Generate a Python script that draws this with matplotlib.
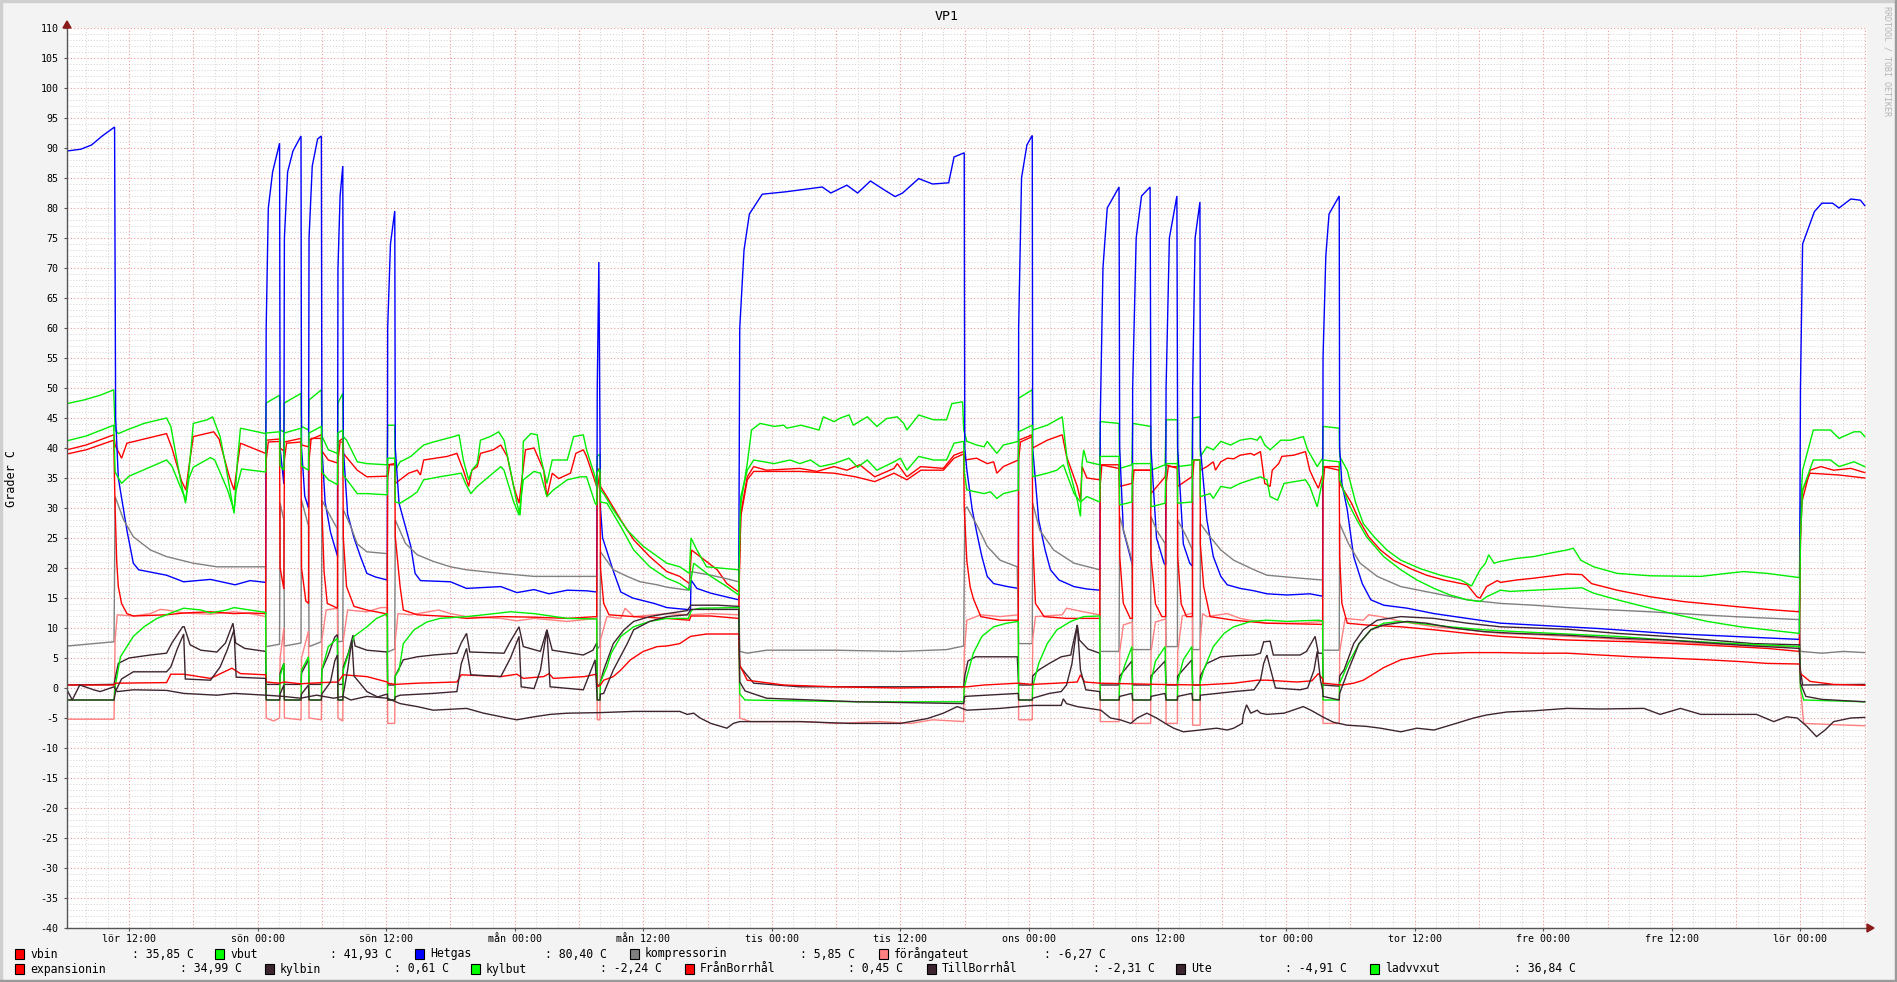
import matplotlib
matplotlib.use("Agg")
import matplotlib.pyplot as plt
from matplotlib.patches import Rectangle, Polygon
import numpy as np

W, H = 1897, 982

# time axis: hours counted from the first "lör 00:00"
t_start, t_end = 6.21, 174.21
tick_hours = [12, 24, 36, 48, 60, 72, 84, 96, 108, 120, 132, 144, 156, 168]
tick_labels = ["lör 12:00", "sön 00:00", "sön 12:00", "mån 00:00", "mån 12:00",
               "tis 00:00", "tis 12:00", "ons 00:00", "ons 12:00", "tor 00:00",
               "tor 12:00", "fre 00:00", "fre 12:00", "lör 00:00"]

# series: (hour, degC)
vbin = [(6.21, 39.7), (8.0, 40.5), (10.57, 42.2), (10.7, 40.5), (11.3, 38.3), (11.8, 40.8), (15.5, 42.4), (16.0, 40),
        (16.9, 34.5), (17.3, 33.0), (17.6, 37), (18.0, 41.9), (19.9, 42.7), (20.4, 41.5), (21.4, 35), (21.8, 33.0),
        (22.1, 37), (22.4, 40.8), (24.75, 39.1), (24.8, 41.3), (26.05, 41.5), (26.1, 40.0), (26.45, 39.5), (26.5, 41.0),
        (28.05, 41.6), (28.1, 40.5), (28.75, 40.2), (28.8, 41.3), (29.95, 42.2), (30.0, 39.5), (30.6, 38), (31.45, 37.5),
        (31.5, 41), (31.95, 41.6), (32.0, 39.1), (33.3, 36.3), (34.2, 35.2), (36.1, 35.3), (36.14, 37.2), (36.8, 37.4),
        (36.85, 34.1), (38.1, 35.8), (38.9, 36.3), (39.2, 35.5), (39.5, 38.0), (41.7, 38.6), (42.6, 39.1), (43.2, 36.3),
        (43.7, 33.6), (44.0, 36.3), (44.5, 36.9), (44.8, 39.1), (46.0, 39.7), (46.7, 40.5), (47.3, 38.6), (47.9, 33.6),
        (48.4, 30.8), (48.7, 35.2), (49.0, 39.7), (49.8, 40.0), (50.7, 36.3), (51.0, 31.9), (51.5, 35.8), (52.1, 34.9),
        (53.2, 35.8), (53.7, 39.1), (54.4, 39.7), (54.7, 38.6), (55.65, 33.6), (55.7, 36.3), (55.95, 36.6), (56.0, 33.6),
        (56.6, 31.9), (57.9, 28), (59.1, 24.7), (60.6, 21.9), (62.2, 19.4), (63.4, 18.6), (64.3, 17.4), (64.5, 23),
        (65.3, 21.9), (66.9, 19.7), (67.8, 17.4), (68.9, 16.0), (69.0, 22), (69.1, 29.1), (69.7, 35.2), (70.3, 36.9),
        (71.5, 36.3), (74.6, 36.6), (76.2, 36.1), (77.8, 36.9), (79.0, 36.3), (80.2, 37.2), (81.6, 35.2), (83.4, 36.6),
        (83.7, 37.4), (84.6, 35.2), (85.9, 36.9), (88.0, 36.6), (89.0, 38.8), (89.9, 39.4), (90.0, 38.0), (91.1, 38.3),
        (92.1, 37.4), (92.7, 37.7), (93.0, 35.8), (93.6, 36.9), (95.0, 38.0), (95.03, 41.3), (96.3, 42.2), (96.34, 40),
        (97.7, 41.3), (99.1, 42.2), (99.5, 38.6), (100.5, 33.6), (100.8, 31.3), (100.95, 36.9), (101.4, 35), (102.6, 34.7),
        (102.65, 37.2), (104.4, 36.6), (104.46, 33.6), (105.6, 34.1), (105.67, 36.3), (107.35, 36.3), (107.38, 32.4),
        (108.7, 35.2), (108.79, 37.2), (109.85, 36.6), (109.87, 33.6), (111.2, 35.2), (111.27, 38), (111.97, 38),
        (111.99, 36.3), (112.6, 36.9), (113.2, 37.7), (113.4, 36.3), (113.9, 37.7), (114.5, 38.3), (115.1, 38.2),
        (115.7, 38.8), (116.7, 39.1), (117.0, 38.8), (117.6, 39.4), (118.0, 34.1), (118.5, 33.6), (118.7, 36.3),
        (119.3, 37.4), (119.6, 38.6), (120.7, 38.8), (121.8, 39.4), (122.2, 36.3), (122.6, 34.7), (123.0, 33.3),
        (123.4, 35.5), (123.44, 36.9), (124.95, 36.3), (124.99, 34.1), (126.1, 30.8), (126.8, 28), (127.7, 25.2),
        (128.8, 23), (130.0, 21.3), (131.6, 19.9), (133.1, 18.8), (134.7, 18), (136.9, 17.2), (137.8, 15.2), (138.1, 15.0),
        (138.7, 16.9), (139.7, 17.9), (140.0, 17.6), (141.5, 18), (143.1, 18.3), (146.2, 19.0), (147.6, 18.9),
        (148.5, 17.4), (150.9, 16.3), (154.0, 15.2), (157.1, 14.4), (161.8, 13.6), (164.9, 13.1), (167.9, 12.7),
        (168.0, 25), (168.1, 30.8), (168.9, 36.3), (169.9, 36.9), (171.1, 36.3), (172.7, 36.6), (174.0, 35.9)]

vbut = [(6.21, 47.4), (7.77, 48.0), (9.32, 48.8), (10.57, 49.7), (10.7, 43.0), (11.0, 42.4), (11.8, 43.0), (13.4, 44.1),
        (15.5, 45.0), (15.9, 43.6), (16.8, 34.7), (17.27, 30.8), (17.6, 36.3), (18.0, 44.1), (19.3, 44.7), (19.8, 45.2),
        (20.5, 41.9), (21.1, 36.3), (21.8, 29.1), (22.1, 37.4), (22.4, 43.3), (24.75, 42.4), (24.8, 47.5), (26.05, 48.8),
        (26.1, 43.0), (26.45, 42.7), (26.5, 47.5), (28.05, 49.1), (28.1, 43.6), (28.75, 43.0), (28.8, 48.0), (29.95, 49.7),
        (30.0, 42), (30.6, 39.7), (31.45, 39.1), (31.5, 47.5), (31.95, 49.1), (32.0, 41.9), (32.3, 41.3), (33.3, 37.7),
        (34.2, 37.4), (36.1, 37.2), (36.14, 43.8), (36.8, 43.8), (36.85, 36.3), (37.3, 37.7), (38.3, 38.6), (39.5, 40.5),
        (40.4, 41.0), (42.3, 41.9), (42.8, 42.2), (43.2, 38), (43.7, 34.7), (44.0, 36.3), (44.5, 37.4), (44.8, 41.3),
        (45.7, 41.9), (46.5, 42.7), (47.0, 41.3), (47.6, 36.3), (48.2, 30.8), (48.5, 28.8), (48.7, 34.7), (48.8, 41.1),
        (49.5, 42.4), (50.1, 42.2), (50.4, 38.6), (51.0, 34.1), (51.5, 38.0), (52.9, 38.0), (53.5, 41.9), (54.4, 42.2),
        (54.7, 39.7), (55.5, 35.2), (55.65, 33.6), (55.7, 38.6), (55.95, 39), (56.0, 33.0), (56.3, 32.4), (57.2, 29.7),
        (58.5, 26.3), (60.0, 23.6), (62.2, 20.8), (63.4, 20.2), (64.3, 19.1), (64.45, 25.0), (65.0, 23.0), (65.9, 20.2),
        (68.9, 19.7), (69.0, 25), (69.1, 30.8), (69.7, 37.4), (70.1, 43.0), (70.9, 44.1), (72.2, 43.6), (73.1, 43.8),
        (73.4, 43.3), (74.7, 43.8), (76.4, 43.0), (76.8, 45.2), (77.8, 44.4), (78.4, 45.0), (79.2, 45.5), (79.6, 43.8),
        (80.9, 45.2), (81.8, 43.6), (82.7, 44.9), (83.7, 45.2), (84.3, 44.1), (84.6, 43.0), (85.7, 45.5), (87.1, 44.7),
        (88.3, 44.7), (88.8, 47.4), (89.8, 47.7), (89.9, 43), (90.2, 41.1), (91.1, 40.5), (91.8, 40.2), (92.1, 41.1),
        (93.0, 39.1), (93.6, 40.5), (95.0, 41.1), (95.03, 48.3), (96.3, 49.7), (96.34, 43.0), (97.7, 43.8), (98.6, 44.7),
        (99.1, 45.2), (99.6, 37.4), (100.5, 31.3), (100.8, 28.6), (100.95, 37.4), (101.1, 39.7), (101.4, 37.7),
        (102.6, 37.2), (102.65, 44.4), (104.4, 44.1), (104.46, 36.6), (105.6, 37.2), (105.67, 44.1), (107.35, 43.6),
        (107.38, 36.3), (108.7, 37.2), (108.79, 44.7), (109.85, 44.7), (109.87, 36.9), (111.2, 37.2), (111.27, 45.0),
        (111.97, 45.2), (111.99, 38.6), (112.6, 40.2), (113.2, 39.7), (113.9, 41.1), (114.8, 40.5), (115.7, 41.3),
        (116.7, 41.6), (117.3, 41.3), (117.6, 42.0), (118.0, 40.5), (118.5, 39.7), (119.5, 41.3), (120.4, 41.3),
        (121.6, 41.9), (122.0, 39.7), (122.9, 36.9), (123.4, 38.3), (123.44, 43.6), (124.95, 43.3), (124.99, 38.6),
        (125.7, 36.3), (126.5, 30.8), (127.2, 27.4), (128.2, 25.2), (129.4, 23.0), (130.7, 21.3), (132.5, 19.9),
        (134.4, 18.8), (136.3, 18.0), (137.3, 17.0), (138.1, 19.7), (138.6, 20.8), (138.9, 22.2), (139.4, 20.8),
        (140.0, 21.1), (141.5, 21.6), (143.1, 21.9), (144.7, 22.5), (146.2, 23.0), (146.8, 23.3), (147.5, 21.3),
        (148.7, 20.2), (150.9, 19.1), (154.0, 18.7), (158.7, 18.6), (161.1, 19.1), (162.7, 19.4), (164.9, 19.1),
        (167.9, 18.4), (168.0, 30), (168.2, 36.3), (169.2, 43.0), (170.8, 43.0), (171.6, 41.6), (173.0, 42.7),
        (173.6, 42.7), (174.0, 41.9)]

hetgas = [(6.21, 89.5), (7.5, 89.8), (8.5, 90.5), (9.5, 92.0), (10.5, 93.3), (10.65, 93.5), (10.72, 60), (10.75, 45),
          (11.0, 35), (11.8, 26.3), (12.4, 20.8), (12.9, 19.7), (15.5, 18.8), (17.1, 17.7), (19.6, 18.1), (21.9, 17.2),
          (23.3, 17.9), (24.75, 17.6), (24.8, 60), (25.0, 80), (25.4, 86), (26.05, 90.8), (26.1, 40), (26.45, 34),
          (26.5, 75), (26.8, 86), (27.3, 89.5), (28.05, 92), (28.1, 40), (28.4, 32), (28.75, 30), (28.8, 75), (29.1, 87),
          (29.6, 91.5), (29.95, 92), (30.0, 40), (30.3, 31), (30.8, 26), (31.45, 22), (31.5, 70), (31.7, 82),
          (31.95, 87), (32.0, 40), (32.4, 29), (33.0, 25), (33.6, 21.9), (34.2, 19.1), (35.0, 18.5), (36.1, 18),
          (36.14, 60), (36.4, 74), (36.8, 79.5), (36.85, 40), (37.2, 30.8), (38.3, 23.6), (38.7, 19.1), (39.2, 17.9),
          (42.0, 17.7), (43.5, 16.6), (46.7, 16.9), (48.2, 15.9), (49.8, 16.4), (51.2, 15.7), (52.9, 16.3), (54.7, 16.2),
          (55.65, 16), (55.7, 50), (55.85, 71), (56.0, 30), (56.2, 25), (57.2, 19.5), (57.9, 16), (59.0, 15.0),
          (61.0, 14.1), (62.2, 13.4), (64.0, 13.1), (64.4, 13.0), (64.45, 18), (65.0, 16.6), (66.3, 15.8), (68.9, 14.7),
          (69.0, 60), (69.4, 73), (69.9, 79), (71.1, 82.3), (73.3, 82.7), (76.7, 83.5), (77.5, 82.5), (79.0, 83.8),
          (80.0, 82.5), (81.2, 84.5), (82.5, 83.0), (83.5, 81.9), (84.2, 82.5), (85.7, 84.9), (87.0, 84.0), (88.5, 84.2),
          (89.0, 88.5), (89.95, 89.2), (90.0, 40), (90.2, 36.3), (90.7, 29.7), (91.2, 25.2), (91.6, 21.9), (92.1, 18.6),
          (92.7, 17.4), (94.0, 16.9), (95.0, 16.6), (95.03, 60), (95.3, 85), (95.8, 90.5), (96.3, 92.1), (96.34, 40),
          (96.9, 28), (97.5, 23), (98.0, 19.7), (98.8, 18), (100.2, 16.9), (101.4, 16.5), (102.6, 16.3), (102.65, 45),
          (102.9, 70), (103.3, 80), (104.4, 83.5), (104.46, 40), (104.8, 26.3), (105.45, 21.9), (105.65, 20.5),
          (105.67, 50), (106.0, 75), (106.5, 82), (107.3, 83.5), (107.38, 40), (107.9, 25), (108.6, 20.8), (108.75, 20.5),
          (108.79, 50), (109.1, 75), (109.8, 82), (109.87, 40), (110.4, 24), (111.0, 20.8), (111.25, 20.3), (111.27, 50),
          (111.5, 75), (111.95, 81), (111.99, 40), (112.6, 28), (113.2, 21.9), (113.9, 18.6), (114.5, 17.2), (115.7, 16.6),
          (117.0, 16.2), (118.2, 15.7), (120.1, 15.5), (122.2, 15.7), (123.4, 15.3), (123.44, 55), (123.7, 72),
          (124.0, 79), (124.95, 82), (124.99, 40), (125.2, 34.1), (125.7, 29.7), (126.3, 21.9), (127.1, 17.4),
          (127.9, 14.7), (129.1, 13.8), (131.3, 13.3), (133.8, 12.4), (136.9, 11.6), (140.0, 10.8), (146.2, 10.2),
          (149.3, 9.9), (155.5, 9.1), (161.8, 8.6), (167.9, 8.1), (168.0, 50), (168.2, 74), (169.3, 79.4), (170.0, 80.8),
          (171.0, 80.8), (171.6, 80.0), (172.7, 81.5), (173.6, 81.3), (174.0, 80.4)]

kompressorin = [(6.21, 7.0), (10.6, 7.7), (10.7, 31.9), (11.5, 28), (12.4, 25.2), (14.0, 23), (15.5, 21.9), (18.0, 20.8),
                (20.2, 20.2), (24.75, 20.2), (24.8, 6.9), (26.05, 7.3), (26.1, 30.8), (26.45, 28), (26.5, 7.0),
                (28.05, 7.5), (28.1, 31.3), (28.75, 27), (28.8, 6.9), (29.95, 7.7), (30.0, 31.3), (30.8, 28.6),
                (31.45, 26.5), (31.5, 7.7), (31.95, 7.8), (32.0, 29.7), (32.7, 26.9), (33.3, 24), (34.2, 22.7),
                (36.1, 22.4), (36.14, 6.0), (36.8, 6.5), (36.85, 28), (37.8, 24.1), (38.9, 22.2), (40.4, 21.1),
                (42.0, 20.2), (43.5, 19.7), (46.7, 19.1), (49.8, 18.6), (55.65, 18.6), (55.7, 6.5), (55.95, 7),
                (56.0, 22.7), (57.2, 19.7), (58.5, 18.6), (59.7, 17.7), (61.3, 17.2), (62.2, 16.8), (64.2, 16.3),
                (64.45, 19.4), (66.3, 18.8), (67.8, 18.2), (68.9, 17.7), (69.0, 6.1), (69.7, 5.8), (71.5, 6.3),
                (77.8, 6.3), (84.0, 6.1), (88.3, 6.4), (89.9, 7.0), (90.0, 29.7), (90.2, 30.2), (91.2, 26.9),
                (92.1, 23.6), (93.3, 21.3), (94.9, 20.2), (95.03, 7.4), (96.3, 7.4), (96.34, 30.8), (97.0, 26.3),
                (98.3, 23), (100.2, 20.8), (102.6, 19.7), (102.65, 6.1), (104.4, 6.1), (104.46, 28.6), (105.0, 25.2),
                (105.6, 21.3), (105.67, 6.4), (107.35, 6.4), (107.38, 28.6), (107.9, 26.3), (108.7, 24.1),
                (108.79, 6.9), (109.85, 6.9), (109.87, 28), (110.7, 25.2), (111.25, 23), (111.27, 6.4), (111.97, 6.4),
                (111.99, 27.4), (112.9, 25.2), (113.9, 23), (115.1, 21.3), (117.0, 19.7), (118.2, 18.8), (121.3, 18.3),
                (123.4, 18.0), (123.44, 6.3), (124.95, 6.3), (124.99, 27.4), (125.8, 24.1), (126.9, 20.8),
                (128.5, 18.6), (130.7, 16.9), (133.8, 15.8), (136.9, 14.7), (140.0, 14.1), (143.1, 13.8), (146.2, 13.4),
                (149.3, 13.1), (154.0, 12.7), (158.7, 12.2), (161.8, 11.9), (167.9, 11.4), (168.0, 6.1), (170, 5.8),
                (172, 6.1), (174.0, 5.9)]

forangateut = [(6.21, -5.2), (10.6, -5.2), (10.7, 8), (10.9, 12.2), (12.4, 12.0), (14.0, 12.4), (14.9, 13.1),
               (15.5, 13.0), (17.1, 12.5), (19.6, 12.3), (21.8, 12.7), (23.3, 12.4), (24.75, 11.9), (24.8, -5.0),
               (25.5, -5.5), (26.05, -5.0), (26.1, 5), (26.45, 10), (26.5, -5.0), (28.05, -5.3), (28.1, 5),
               (28.75, 9.5), (28.8, -5.0), (29.95, -5.3), (30.0, 8), (30.4, 13.0), (31.45, 13.3), (31.5, -5.0),
               (31.95, -5.5), (32.0, 8), (32.4, 13.0), (34.2, 12.7), (35.5, 13.4), (36.1, 13.4), (36.14, -5.9),
               (36.8, -5.9), (36.85, 8), (37.1, 12.4), (38.3, 12.2), (40.9, 13.0), (42.0, 12.4), (43.5, 11.9),
               (46.7, 11.6), (48.2, 11.2), (49.8, 11.6), (52.9, 11.1), (55.65, 11.6), (55.7, -5.3), (55.95, -5.3),
               (56.0, 8), (56.6, 11.9), (57.9, 11.6), (58.3, 13.3), (59.1, 11.9), (62.2, 12.4), (64.3, 12.2),
               (66.3, 12.4), (68.9, 12.2), (69.0, -5.0), (70.0, -5.6), (75.0, -5.6), (78.0, -5.9), (82.0, -5.6),
               (85.0, -5.9), (87.0, -5.3), (89.9, -5.6), (89.95, 6), (90.2, 11.3), (91.5, 12.2), (93.3, 11.9),
               (95.0, 12.2), (95.03, -5.3), (96.3, -5.3), (96.34, 8), (96.6, 11.9), (99.1, 12.2), (99.5, 13.3),
               (101.1, 12.7), (102.6, 12.2), (102.65, -5.6), (104.4, -5.6), (104.46, 6), (104.8, 10.5), (105.65, 11.0),
               (105.67, -5.9), (107.35, -5.9), (107.38, 6), (107.8, 11.0), (108.75, 11.5), (108.79, -5.9),
               (109.85, -5.9), (109.87, 6), (110.3, 12.0), (111.25, 12.5), (111.27, -6.2), (111.97, -6.2), (111.99, 8),
               (112.2, 12.4), (112.6, 11.9), (114.5, 12.4), (115.7, 11.6), (118.2, 10.8), (121.3, 10.8), (123.4, 11.1),
               (123.44, -5.9), (124.95, -5.9), (124.99, 6), (125.5, 11.6), (127.2, 11.3), (127.7, 12.2), (128.8, 11.9),
               (130.7, 11.1), (133.8, 10.2), (136.9, 9.7), (140.0, 9.1), (143.1, 8.9), (146.2, 8.6), (152.4, 8.0),
               (158.7, 7.4), (164.9, 7.0), (167.9, 6.9), (168.0, 0), (168.3, -5.9), (171.0, -6.1), (174.0, -6.3)]

expansionin = [(6.21, 39.0), (8.0, 39.7), (10.57, 41.3), (10.7, 30), (10.85, 21), (11.0, 16.9), (11.3, 14.1),
               (11.8, 12.4), (12.4, 12.0), (15.5, 12.2), (17.1, 12.5), (19.6, 12.7), (21.8, 12.4), (23.3, 12.5),
               (24.75, 12.4), (24.8, 38), (25.0, 41.0), (26.05, 41.1), (26.1, 20), (26.45, 16.5), (26.5, 38),
               (26.7, 40.8), (28.05, 41.0), (28.1, 20), (28.5, 14.5), (28.75, 14.1), (28.8, 38), (29.0, 41.6),
               (29.95, 41.6), (30.0, 30), (30.2, 19.5), (30.5, 14.1), (31.45, 13.3), (31.5, 38), (31.7, 41.0),
               (31.95, 41.0), (32.0, 25), (32.3, 16.9), (33.0, 13.6), (34.2, 13.0), (35.9, 12.4), (36.1, 11.9),
               (36.14, 35), (36.3, 37.2), (36.8, 37.2), (36.85, 25.2), (37.3, 16.9), (37.6, 13.0), (38.9, 12.2),
               (42.0, 11.9), (43.5, 11.6), (46.7, 11.9), (49.8, 11.8), (52.9, 11.6), (55.65, 11.9), (55.7, 33),
               (55.95, 36), (56.0, 20), (56.3, 14.1), (56.8, 12.2), (59.1, 11.9), (62.2, 11.6), (64.3, 11.3),
               (64.45, 12), (66.3, 12.0), (68.9, 11.6), (69.0, 22), (69.1, 28.6), (69.7, 34.7), (70.3, 36.1),
               (74.6, 36.1), (77.8, 35.8), (79.8, 35.2), (81.6, 34.4), (83.4, 35.8), (84.6, 34.7), (85.9, 36.3),
               (88.0, 36.3), (89.0, 38.3), (89.9, 39.0), (89.95, 30), (90.2, 21.1), (90.5, 16.9), (90.8, 14.9),
               (91.5, 11.9), (93.3, 11.3), (95.0, 11.3), (95.03, 38), (95.2, 41.0), (96.3, 41.9), (96.34, 25),
               (96.6, 14.1), (97.4, 11.9), (99.5, 11.6), (102.6, 11.6), (102.65, 34), (102.8, 37.2), (104.4, 37.2),
               (104.46, 22), (104.8, 14.1), (105.45, 11.6), (105.65, 11.6), (105.67, 34), (105.8, 36.3),
               (107.35, 36.3), (107.38, 22), (107.8, 14), (108.4, 11.9), (108.75, 11.9), (108.79, 34), (109.0, 36.9),
               (109.85, 36.9), (109.87, 22), (110.2, 14), (110.7, 11.9), (111.25, 11.9), (111.27, 35), (111.4, 38),
               (111.97, 38), (111.99, 24), (112.3, 16.9), (112.9, 11.9), (115.1, 11.3), (118.2, 10.8), (123.4, 10.6),
               (123.44, 34), (123.6, 36.9), (124.95, 36.9), (124.99, 22), (125.2, 14.1), (125.7, 10.8), (127.5, 10.5),
               (130.7, 10.2), (133.8, 9.7), (136.9, 9.1), (140.0, 8.6), (143.1, 8.3), (146.2, 8.0), (152.4, 7.7),
               (158.7, 7.2), (164.9, 6.6), (167.9, 6.1), (168.0, 25), (168.2, 33), (168.9, 35.8), (171.6, 35.5),
               (174.0, 35.0)]

kylbin = [(6.21, 0.5), (10.6, 0.6), (10.75, 2.0), (11.0, 4.1), (12.0, 5.0), (14.0, 5.5), (15.5, 5.8), (16.0, 7.5),
          (17.0, 10.2), (17.15, 10.2), (17.7, 7.2), (18.7, 6.3), (20.2, 6.0), (21.0, 7.5), (21.7, 10.8), (21.95, 7.5),
          (22.8, 6.6), (24.75, 6.1), (24.8, 0.6), (26.05, 0.6), (26.1, 2.5), (26.45, 4.1), (26.5, 0.6), (28.05, 0.6),
          (28.1, 2.5), (28.75, 4.7), (28.8, 0.6), (29.95, 0.6), (30.0, 3), (30.6, 5.5), (31.2, 8.5), (31.45, 8.9),
          (31.5, 0.6), (31.95, 0.6), (32.0, 3.5), (32.5, 6), (32.9, 8.8), (33.1, 7), (34.2, 6.3), (36.1, 6.0),
          (36.14, 0.5), (36.8, 0.5), (36.85, 2), (37.6, 4.7), (38.9, 5.2), (40.4, 5.5), (42.6, 5.8), (43.0, 7.5),
          (43.5, 9.1), (43.8, 6.0), (47.0, 5.8), (47.5, 7.5), (48.4, 10.2), (48.8, 6.9), (50.4, 6.1), (51.0, 9.7),
          (51.5, 6.3), (54.4, 5.5), (55.3, 6.3), (55.65, 7.5), (55.7, 0.5), (55.95, 0.5), (56.0, 1), (56.3, 3),
          (57.2, 7.4), (58.2, 9.7), (59.1, 11.1), (60.6, 11.9), (62.2, 12.4), (64.1, 12.9), (64.45, 13.8),
          (66.9, 13.8), (68.9, 13.6), (69.0, 3.6), (70.3, 0.8), (74.6, 0.2), (89.9, 0.2), (90.0, 2), (90.3, 4.5),
          (91.0, 5.2), (94.9, 5.2), (95.03, 0.5), (96.3, 0.5), (96.34, 2), (96.9, 3), (97.9, 4.1), (99.0, 5.2),
          (99.9, 5.5), (100.0, 6.5), (100.5, 10.5), (100.7, 8.0), (101.5, 6.5), (102.6, 5.8), (102.65, 0.5),
          (104.4, 0.5), (104.46, 2), (105.6, 4.5), (105.67, 0.5), (107.35, 0.5), (107.38, 2), (108.7, 4.5),
          (108.79, 0.5), (109.85, 0.5), (109.87, 2), (111.2, 4.7), (111.27, 0.5), (111.97, 0.5), (111.99, 2),
          (112.6, 4.1), (113.9, 5.2), (115.5, 5.4), (117.0, 5.5), (117.6, 5.8), (117.9, 7.7), (118.5, 7.8),
          (118.8, 5.5), (121.3, 5.5), (121.9, 6.1), (122.7, 8.6), (123.0, 5.8), (123.4, 5.8), (123.44, 0.5),
          (124.95, 0.3), (124.99, 2), (125.4, 3), (126.3, 7.4), (127.2, 9.7), (128.5, 11.3), (130.7, 11.9),
          (133.8, 11.6), (136.9, 10.8), (140.0, 10.2), (143.1, 10.0), (146.2, 9.8), (150.9, 9.1), (155.5, 8.6),
          (160.2, 7.9), (163.6, 7.4), (167.9, 7.2), (168.0, 3), (168.2, 0.5), (174.0, 0.6)]

kylbut = [(6.21, -2.0), (10.6, -2.0), (10.7, 0.2), (11.2, 5.2), (11.8, 6.9), (12.4, 8.6), (13.4, 10.2), (14.6, 11.6),
          (16.2, 12.7), (17.1, 13.3), (18.7, 13.0), (19.6, 12.5), (21.1, 13.0), (21.8, 13.4), (23.3, 13.0),
          (24.75, 12.6), (24.8, -2.0), (26.05, -2.0), (26.1, 2.0), (26.45, 4.1), (26.5, -2.0), (28.05, -2.0),
          (28.1, 3), (28.75, 5.2), (28.8, -2.0), (29.95, -2.0), (30.0, 3), (30.6, 6.9), (31.45, 8.3), (31.5, -2.0),
          (31.95, -2.0), (32.0, 3), (33.0, 8.6), (34.2, 10.2), (35.1, 11.6), (36.1, 12.4), (36.14, -2.0),
          (36.8, -2.0), (36.85, 2), (37.2, 3), (37.6, 7.4), (38.6, 9.7), (39.8, 11.0), (41.0, 11.6), (43.5, 11.9),
          (45.1, 12.2), (47.6, 12.7), (49.8, 12.4), (52.9, 11.6), (55.65, 11.5), (55.7, -2), (55.95, -2), (56.0, 1),
          (56.6, 3.5), (57.0, 5.8), (57.9, 8.6), (59.1, 10.2), (60.6, 11.1), (62.2, 11.6), (64.2, 11.6), (64.5, 13.0),
          (65.3, 13.3), (68.9, 13.4), (69.0, -1.0), (69.5, -2.0), (80.0, -2.3), (89.9, -2.3), (89.95, 0), (90.2, 1.9),
          (90.8, 5.8), (91.6, 8.6), (92.7, 10.2), (93.9, 10.8), (95.0, 11.1), (95.03, -2.0), (96.3, -2.0),
          (96.34, 0.2), (96.9, 4.1), (97.7, 7.4), (98.6, 9.7), (99.9, 11.1), (101.1, 11.9), (102.6, 12.0),
          (102.65, -2.0), (104.4, -2.0), (104.46, 1), (104.9, 3.6), (105.6, 6.9), (105.67, -2.0), (107.35, -2.0),
          (107.38, 1), (107.8, 4.5), (108.7, 6.9), (108.79, -2.0), (109.85, -2.0), (109.87, 1), (110.4, 4.7),
          (111.2, 6.9), (111.27, -2.0), (111.97, -2.0), (111.99, 1), (112.3, 3), (113.2, 6.9), (114.2, 9.1),
          (115.1, 10.2), (116.7, 11.1), (118.2, 11.3), (120.1, 11.1), (122.9, 11.3), (123.4, 11.2), (123.44, -2.0),
          (124.95, -2.0), (124.99, 0.8), (125.8, 4.1), (126.8, 7.4), (127.9, 9.7), (129.1, 10.8), (130.7, 11.1),
          (132.2, 10.8), (135.3, 10.2), (138.4, 9.7), (141.5, 9.4), (146.2, 9.0), (150.9, 8.6), (155.5, 8.0),
          (161.8, 7.4), (167.9, 6.9), (168.0, 0), (168.3, -2.0), (174.0, -2.3)]

franborrhal = [(6.21, 0.5), (10.6, 0.5), (10.7, 0.8), (15.5, 0.9), (15.9, 2.3), (17.1, 2.3), (19.6, 1.6), (21.6, 3.3),
               (22.4, 2.4), (24.75, 2.2), (24.8, 1.0), (26.05, 0.8), (26.5, 1.0), (28.0, 0.7), (30.0, 0.9), (31.5, 1.0),
               (32.0, 2.2), (34.2, 1.9), (36.1, 1.0), (36.14, 0.8), (36.85, 0.6), (38.9, 0.8), (42.6, 1.0), (43.0, 2.2),
               (46.7, 1.9), (48.2, 2.3), (48.8, 1.6), (50.7, 1.9), (51.2, 2.4), (51.6, 1.6), (54.5, 1.9), (55.6, 2.3),
               (55.7, 0.2), (56.0, 0.5), (56.3, 1.3), (57.2, 1.9), (57.9, 3.0), (58.8, 4.7), (60.0, 6.1), (61.3, 6.9),
               (62.2, 7.0), (63.4, 7.4), (64.4, 8.6), (65.9, 9.0), (68.9, 9.0), (69.0, 3.8), (69.7, 1.3), (73.1, 0.5),
               (77.8, 0.2), (84.0, 0.0), (89.9, 0.2), (90.2, 0.2), (91.8, 0.5), (95.0, 0.8), (96.3, 0.6), (98.6, 0.8),
               (100.5, 1.0), (100.8, 2.2), (101.2, 1.0), (102.6, 0.8), (108.0, 0.6), (112.0, 0.5), (115.1, 0.8),
               (117.3, 1.3), (118.2, 1.3), (121.0, 1.0), (122.4, 1.2), (123.0, 2.4), (123.4, 1.5), (123.44, 0.8),
               (125.2, 0.5), (126.3, 0.8), (127.2, 1.3), (128.2, 2.4), (129.1, 3.4), (130.7, 4.7), (132.2, 5.2),
               (133.8, 5.7), (136.9, 5.9), (140.0, 5.9), (143.1, 5.8), (146.2, 5.8), (149.3, 5.5), (152.4, 5.2),
               (155.5, 5.0), (159.3, 4.7), (162.4, 4.4), (164.9, 4.1), (167.9, 4.0), (168.0, 2.4), (168.9, 1.1),
               (171.1, 0.6), (174.0, 0.45)]

tillborrhal = [(6.21, -2.0), (10.6, -2.0), (10.75, -0.5), (11.3, 1.5), (12.4, 2.7), (15.5, 2.7), (15.9, 3.5),
               (16.5, 6.5), (17.1, 9.0), (17.25, 1.5), (19.6, 1.3), (20.5, 3.5), (21.2, 6.5), (21.8, 9.7), (22.0, 1.8),
               (24.75, 1.6), (24.8, -2.0), (26.05, -2.0), (26.1, -1), (26.45, 0.5), (26.5, -2.0), (28.05, -2.0),
               (28.1, -1), (28.75, 0.5), (28.8, -2), (29.95, -2), (30.0, -1), (30.8, 1.0), (31.2, 4.5), (31.45, 5.5),
               (31.5, -2), (31.95, -2), (32.0, -1), (32.4, 3), (32.8, 8.0), (33.0, 2), (34.2, -0.6), (35.2, -1.5),
               (36.1, -1.0), (36.14, -2.0), (36.8, -2.0), (36.85, -1.5), (37.3, -1.2), (40.4, -0.9), (42.6, -0.6),
               (43.0, 4.0), (43.5, 6.6), (43.9, 2.2), (46.7, 1.9), (47.6, 5.0), (48.4, 8.6), (48.6, 0.2), (49.8, -0.1),
               (50.4, 3), (51.0, 9.7), (51.3, 0.2), (54.4, -0.3), (55.5, 4.7), (55.7, -2.0), (55.95, -2.0),
               (56.0, -1.0), (56.3, -0.9), (57.2, 3.0), (58.5, 7.4), (59.1, 9.7), (60.6, 11.1), (62.2, 11.9),
               (64.1, 12.2), (64.45, 13.1), (68.9, 13.1), (69.0, 1.0), (69.5, -0.5), (71.5, -1.7), (80.0, -2.3),
               (89.9, -2.6), (90.0, -1.4), (95.0, -0.9), (95.03, -2.0), (96.3, -2.0), (96.34, -1.7), (97.9, -0.9),
               (99.0, -0.6), (99.5, 0.5), (100.0, 4.0), (100.5, 10.5), (100.8, 3.0), (101.3, -0.3), (102.6, -0.6),
               (102.65, -2.0), (104.4, -2.0), (104.46, -1.4), (105.6, -0.9), (105.67, -2.0), (107.35, -2.0),
               (107.38, -1.4), (108.7, -0.9), (108.79, -2.0), (109.85, -2.0), (109.87, -1.4), (111.2, -0.9),
               (111.27, -2.0), (111.97, -2.0), (111.99, -1.2), (115.1, -0.6), (117.0, -0.3), (117.6, 1.3),
               (117.9, 4.1), (118.2, 5.5), (118.4, 4.1), (119.0, 0.0), (121.3, -0.3), (122.0, 0.0), (122.6, 3),
               (122.9, 6.1), (123.2, 1.3), (123.4, -0.3), (123.44, -1.4), (124.95, -2.0), (124.99, -0.9), (125.8, 3.0),
               (126.8, 7.4), (127.9, 9.7), (129.1, 10.5), (131.3, 11.1), (133.1, 10.8), (135.6, 10.0), (138.4, 9.4),
               (141.5, 9.1), (146.2, 8.8), (150.9, 8.3), (155.5, 8.0), (160.2, 7.4), (163.6, 7.0), (167.9, 6.6),
               (168.0, 0.8), (168.5, -1.4), (170.0, -1.9), (174.0, -2.3)]

ute = [(6.21, -0.3), (6.7, -2.0), (7.4, 0.5), (8.7, -0.3), (9.3, -0.6), (10.6, 0.2), (10.9, -0.6), (12.4, -0.3),
       (15.5, -0.4), (17.1, -0.9), (20.2, -1.2), (21.8, -0.9), (24.8, -1.2), (26.4, -1.4), (28.0, -1.7), (29.5, -1.2),
       (31.1, -1.7), (32.0, -1.4), (32.7, -2.0), (34.2, -1.4), (36.1, -1.7), (37.3, -2.6), (38.9, -3.1), (40.4, -3.7),
       (43.5, -3.4), (45.1, -4.2), (47.3, -5.0), (48.2, -5.3), (49.8, -4.8), (51.3, -4.4), (52.9, -4.2), (56.0, -4.1),
       (59.1, -3.9), (62.2, -3.9), (63.4, -3.9), (64.1, -4.4), (64.7, -4.2), (65.3, -5.0), (66.3, -5.9), (67.8, -6.7),
       (68.4, -5.9), (69.0, -5.6), (74.6, -5.6), (79.3, -5.9), (84.0, -5.9), (86.5, -5.1), (88.0, -4.2), (89.3, -3.1),
       (90.2, -3.7), (93.3, -3.4), (96.4, -2.9), (99.0, -2.9), (99.2, -1.8), (99.5, -2.6), (100.5, -3.1),
       (102.7, -3.7), (103.6, -5.0), (104.5, -5.3), (105.5, -5.9), (106.1, -5.0), (107.0, -4.2), (107.9, -5.0),
       (108.9, -6.1), (109.5, -6.7), (110.4, -7.3), (112.0, -7.0), (113.5, -6.7), (114.5, -7.0), (115.1, -6.7),
       (115.9, -5.9), (116.0, -4.5), (116.3, -2.8), (116.7, -4.2), (117.3, -3.7), (117.6, -4.2), (118.2, -4.4),
       (119.8, -4.2), (121.6, -3.1), (122.3, -3.7), (123.5, -4.9), (124.4, -5.7), (125.7, -6.2), (127.5, -6.4),
       (128.8, -6.7), (130.7, -7.3), (132.2, -6.7), (133.8, -7.0), (135.3, -6.2), (137.5, -5.0), (138.7, -4.5),
       (140.6, -4.0), (143.1, -3.8), (146.2, -3.4), (149.3, -3.5), (153.4, -3.4), (154.9, -4.4), (156.8, -3.4),
       (158.7, -4.4), (163.9, -4.4), (165.5, -5.6), (166.7, -4.8), (167.7, -5.0), (168.6, -6.4), (169.5, -8.1),
       (170.3, -7.0), (171.1, -5.6), (172.7, -5.0), (174.0, -4.9)]

ladvvxut = [(6.21, 41.2), (8.0, 42.0), (10.57, 43.8), (10.7, 36), (11.3, 34.1), (12.0, 35.3), (15.5, 38.0),
            (16.0, 37.0), (17.3, 31.3), (17.6, 35), (18.0, 36.8), (19.6, 38.4), (20.0, 38.0), (21.2, 33), (21.8, 29.5),
            (22.0, 33), (22.5, 36.5), (24.75, 36.0), (24.8, 42.5), (26.05, 42.7), (26.1, 37), (26.45, 36.3),
            (26.5, 42.5), (28.05, 43.3), (28.1, 37), (28.75, 36.3), (28.8, 42.5), (29.95, 43.6), (30.0, 36),
            (30.6, 34.7), (31.45, 33.9), (31.5, 42.5), (31.95, 43.0), (32.0, 35.5), (33.3, 32.4), (34.2, 32.4),
            (36.1, 32.2), (36.14, 38.3), (36.8, 38.3), (36.85, 31), (37.3, 30.8), (38.3, 31.9), (38.9, 32.7),
            (39.5, 34.7), (41.0, 35.2), (43.0, 35.8), (43.4, 34.1), (43.9, 32.4), (44.5, 33.6), (46.7, 36.9),
            (47.0, 36.3), (47.9, 31), (48.4, 28.8), (48.8, 34.7), (49.8, 36.1), (50.4, 35.8), (51.0, 31.9),
            (51.6, 33), (52.9, 34.7), (54.1, 35.2), (54.7, 35.2), (55.5, 30.8), (55.65, 30.5), (55.7, 36),
            (55.95, 36.5), (56.0, 31), (56.6, 30.8), (57.9, 26.9), (59.1, 23), (60.6, 20.2), (62.2, 18.3),
            (63.4, 17.4), (64.3, 16.3), (64.7, 20.8), (66.3, 18.6), (67.8, 16.9), (68.9, 15.5), (69.0, 25),
            (69.1, 31.9), (69.7, 36.3), (70.3, 38.0), (72.2, 37.4), (73.7, 38.0), (74.6, 37.4), (75.6, 38.0),
            (76.5, 36.9), (77.8, 37.4), (79.2, 38.3), (80.0, 36.8), (80.9, 38.0), (81.8, 36.3), (83.4, 37.7),
            (84.0, 38.3), (84.6, 36.3), (85.7, 38.6), (87.1, 38.0), (88.3, 38.0), (89.0, 40.8), (89.9, 41.1),
            (89.95, 36), (90.2, 33), (91.8, 32.4), (92.4, 32.7), (93.0, 31.6), (93.6, 32.4), (95.0, 33),
            (95.03, 42.7), (96.3, 43.8), (96.34, 35.2), (97.7, 35.8), (98.6, 36.3), (99.2, 37.2), (100.2, 32.4),
            (100.8, 31), (101.4, 31.9), (102.6, 31), (102.65, 38.6), (104.4, 38.6), (104.46, 30.5), (105.6, 31),
            (105.67, 37.4), (107.35, 37.4), (107.38, 30.2), (108.7, 30.8), (108.79, 37.4), (109.85, 37.4),
            (109.87, 30.8), (111.2, 31), (111.27, 38), (111.97, 38), (111.99, 31.9), (112.9, 32.4), (113.2, 31.6),
            (113.9, 33.6), (114.8, 33.3), (115.7, 34.1), (116.7, 34.7), (117.6, 35.2), (118.2, 34.7), (118.5, 31.9),
            (119.2, 31.3), (119.8, 34.1), (121.8, 34.7), (122.2, 33.6), (122.9, 30.2), (123.4, 34.7), (123.44, 38),
            (124.95, 37.7), (124.99, 34.7), (125.8, 30.8), (126.6, 28), (127.5, 25.2), (129.1, 21.9), (130.7, 19.7),
            (132.2, 18), (133.8, 16.6), (135.3, 15.5), (136.9, 14.7), (138.1, 14.4), (138.7, 15.2), (140.0, 16.3),
            (140.9, 16.1), (143.1, 16.3), (146.2, 16.6), (147.6, 16.7), (148.7, 15.8), (150.9, 14.7), (154.0, 13.3),
            (156.5, 12.2), (159.3, 11.1), (162.4, 10.2), (164.9, 9.7), (167.9, 9.1), (168.0, 25), (168.2, 33),
            (169.2, 38), (170.8, 38), (171.6, 36.9), (173.0, 37.7), (174.0, 36.9)]

series_names = ["vbin", "vbut", "Hetgas", "kompressorin", "förångateut", "expansionin",
                "kylbin", "kylbut", "FrånBorrhål", "TillBorrhål", "Ute", "ladvvxut"]
series_data = [vbin, vbut, hetgas, kompressorin, forangateut, expansionin,
               kylbin, kylbut, franborrhal, tillborrhal, ute, ladvvxut]
last_values = ["35,85", "41,93", "80,40", "5,85", "-6,27", "34,99",
               "0,61", "-2,24", "0,45", "-2,31", "-4,91", "36,84"]

RED, GREEN, BLUE, GRAY, SALMON, DARK = "#FF0000", "#00EE00", "#0000FF", "#808080", "#FF8080", "#3D2530"
colors = [RED, GREEN, BLUE, GRAY, SALMON, RED, DARK, GREEN, RED, DARK, DARK, GREEN]

# legend layout in pixels: (box x, value x, row)
legend_pos = [(15, 132, 0), (215, 330, 0), (415, 545, 0), (630, 800, 0), (879, 1044, 0),
              (15, 180, 1), (265, 394, 1), (471, 600, 1), (685, 848, 1), (927, 1093, 1),
              (1176, 1285, 1), (1370, 1514, 1)]
row_y = [954, 969]

MONO = "DejaVu Sans Mono"


def fx(x):
    return x / W


def fy(y):
    return 1 - y / H


fig = plt.figure(figsize=(W / 100, H / 100), dpi=100, facecolor="#F3F3F3")
L, T, R, B = 67, 28, 1867, 928
ax = fig.add_axes([fx(L), fy(B), (R - L) / W, (B - T) / H])
ax.set_facecolor("white")
ax.set_xlim(t_start, t_end)
ax.set_ylim(-40, 110)

# grid (minor grey, major red), drawn like rrdtool
minor_y = [v for v in range(-40, 111) if v % 5]
major_y = list(range(-40, 111, 5))
minor_x = [h for h in range(8, 175, 2) if h % 6]
major_x = list(range(12, 175, 6))
ax.hlines(minor_y, t_start, t_end, colors="#D2D2D2", lw=0.7, linestyles=(0, (1, 2)), zorder=0)
ax.vlines(minor_x, -40, 110, colors="#D2D2D2", lw=0.7, linestyles=(0, (1, 2)), zorder=0)
ax.hlines(major_y, t_start, t_end, colors="#F29A9A", lw=0.8, linestyles=(0, (1, 2)), zorder=0)
ax.vlines(major_x, -40, 110, colors="#F29A9A", lw=0.8, linestyles=(0, (1, 2)), zorder=0)

for pts, c in zip(series_data, colors):
    xs, ys = zip(*pts)
    ax.plot(xs, ys, color=c, lw=1.0, solid_joinstyle="miter", zorder=2)

for s in ["top", "right"]:
    ax.spines[s].set_visible(False)
for s in ["left", "bottom"]:
    ax.spines[s].set_color("#555555")
    ax.spines[s].set_linewidth(1.0)

ax.set_yticks(major_y)
ax.set_yticklabels([str(v) for v in major_y], fontfamily=MONO, fontsize=7.2)
ax.set_xticks(tick_hours)
ax.set_xticklabels(tick_labels, fontfamily=MONO, fontsize=7.2)
ax.tick_params(axis="y", length=2, pad=4, color="#555555")
ax.tick_params(axis="x", length=2, pad=2, color="#555555")

# axis arrows
fig.patches.append(Polygon([(fx(L - 4), fy(T)), (fx(L + 4), fy(T)), (fx(L), fy(T - 7))],
                           closed=True, transform=fig.transFigure, color="#8B1A1A", zorder=5))
fig.patches.append(Polygon([(fx(R), fy(B - 4)), (fx(R), fy(B + 4)), (fx(R + 7), fy(B))],
                           closed=True, transform=fig.transFigure, color="#8B1A1A", zorder=5))

fig.text(fx(947), fy(17), "VP1", ha="center", va="center", fontfamily=MONO, fontsize=9.5, color="black")
fig.text(fx(12), fy(478), "Grader C", ha="center", va="center", rotation=90,
         fontfamily=MONO, fontsize=8.5, color="black")
fig.text(fx(1887), fy(6), "RRDTOOL / TOBI OETIKER", ha="center", va="top", rotation=270,
         fontfamily=MONO, fontsize=6, color="#B5B5B5")

# legend
for name, val, c, (bx, vx, row) in zip(series_names, last_values, colors, legend_pos):
    yy = row_y[row]
    fig.patches.append(Rectangle((fx(bx), fy(yy + 5)), 9 / W, 10 / H, transform=fig.transFigure,
                                 facecolor=c if c != GREEN else "#00FF00", edgecolor="black", lw=0.8))
    fig.text(fx(bx + 15), fy(yy), name, ha="left", va="center", fontfamily=MONO, fontsize=8.3, color="black")
    fig.text(fx(vx), fy(yy), ": " + val + " C", ha="left", va="center", fontfamily=MONO, fontsize=8.3, color="black")

# frame around the image
fig.patches.append(Rectangle((0, fy(2)), 1, 2 / H, transform=fig.transFigure, color="#CFCFCF"))
fig.patches.append(Rectangle((0, 0), 2 / W, 1, transform=fig.transFigure, color="#CFCFCF"))
fig.patches.append(Rectangle((0, 0), 1, 2 / H, transform=fig.transFigure, color="#9A9A9A"))
fig.patches.append(Rectangle((1 - 2 / W, 0), 2 / W, 1, transform=fig.transFigure, color="#9A9A9A"))

fig.savefig("out.png", dpi=100, facecolor=fig.get_facecolor())
